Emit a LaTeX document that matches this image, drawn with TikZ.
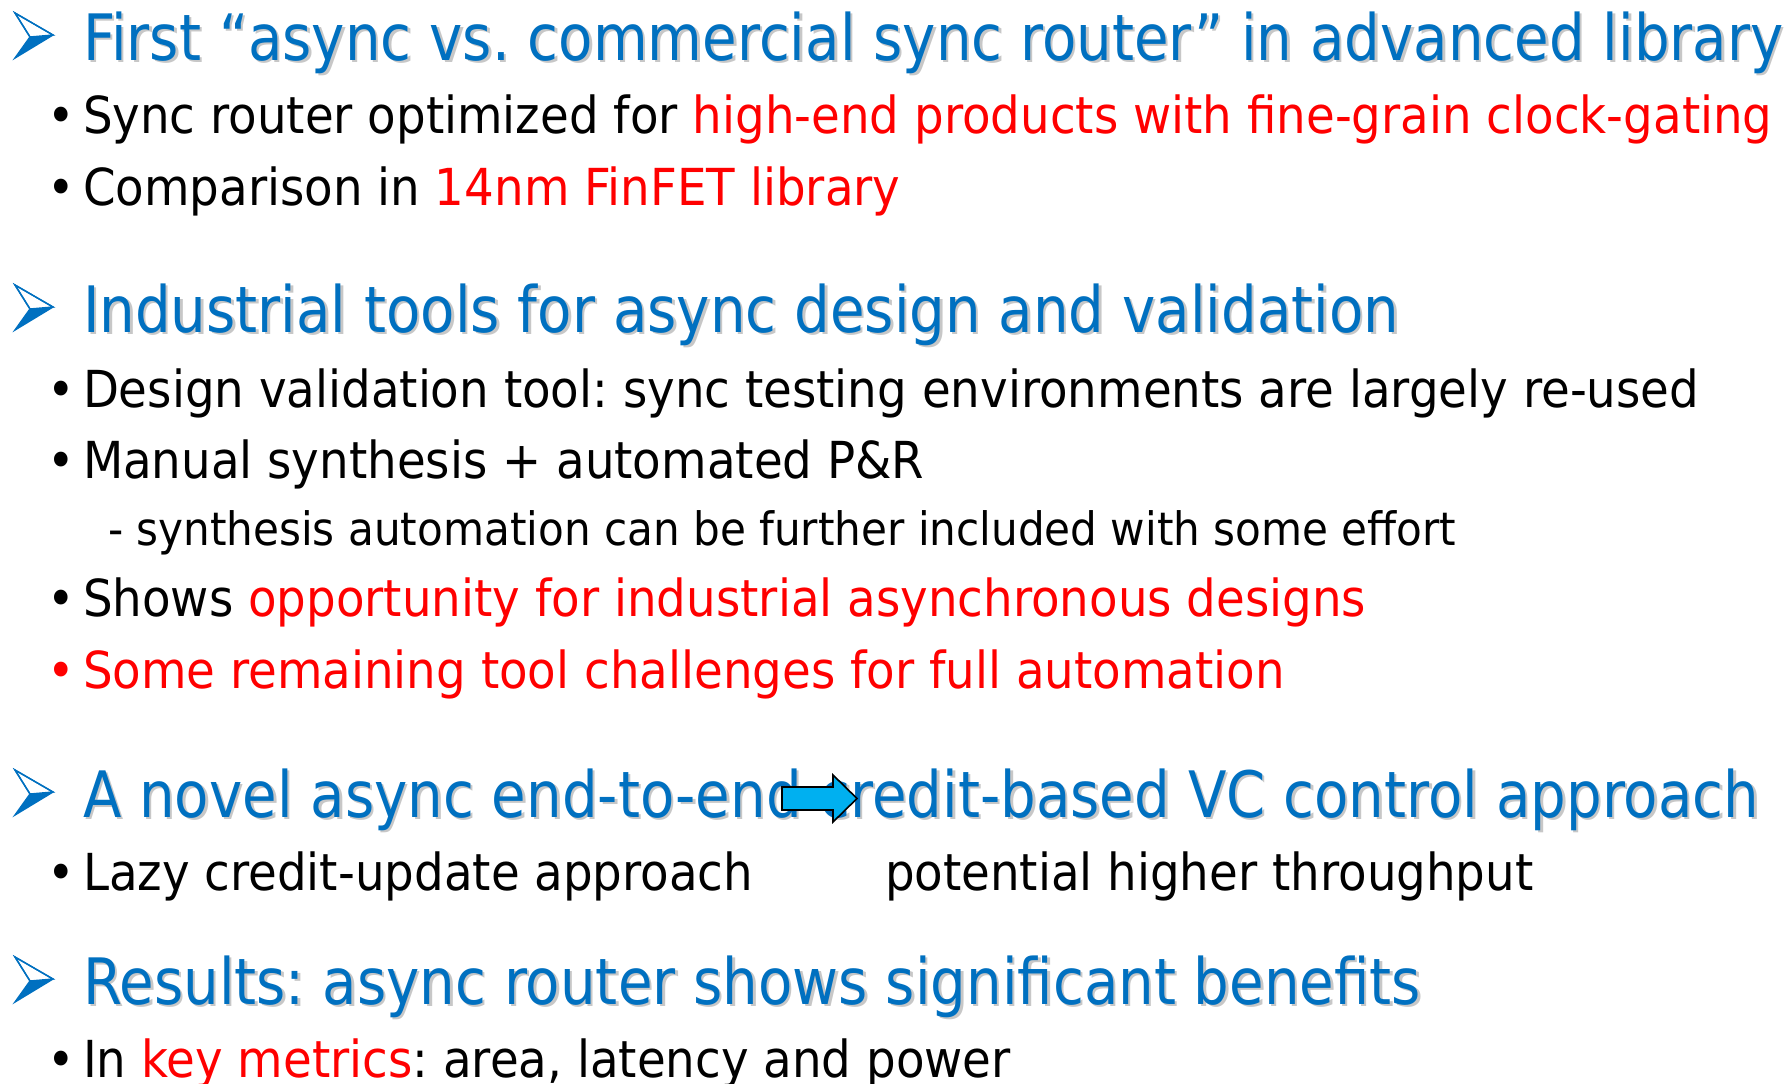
\documentclass[tikz,border=0pt]{standalone}
\usepackage{fontspec}
\setmainfont{DejaVu Sans}[FakeStretch=0.916]
\newfontfamily\headfont{DejaVu Sans}[FakeStretch=0.878]
\newfontfamily\bodyfont{DejaVu Sans}[FakeStretch=0.916]
\definecolor{headblue}{HTML}{0070C0}
\definecolor{hotred}{HTML}{FF0000}
\definecolor{arrowcyan}{HTML}{00B0F0}
\tikzset{
  headtext/.style={anchor=base west, inner sep=0pt, outer sep=0pt,
    font=\headfont\fontsize{64}{70}\selectfont\frenchspacing},
  bodytext/.style={anchor=base west, inner sep=0pt, outer sep=0pt,
    font=\bodyfont\fontsize{51}{56}\selectfont\frenchspacing},
  subtext/.style={anchor=base west, inner sep=0pt, outer sep=0pt,
    font=\bodyfont\fontsize{46}{50}\selectfont\frenchspacing},
  bulletmark/.style={anchor=base west, inner sep=0pt, outer sep=0pt,
    font=\bodyfont\fontsize{51}{56}\selectfont},
  headshadow/.style={headtext, text=black, opacity=0.22},
  headmain/.style={headtext, text=headblue},
  headarrow/.pic={
    \fill[headblue] (15,-23) -- (38,-25) -- (0,-2) -- cycle;
    \draw[headblue, line width=1.4pt, line join=miter, fill=white]
      (0,-47) -- (38,-25) -- (15,-23) -- cycle;
    \draw[headblue, line width=1.4pt, line join=miter]
      (0,-47) -- (38,-25) -- (0,-2) -- (15,-23) -- cycle;
  }
}
% heading with a soft drop shadow
\newcommand{\headline}[3]{%
  \node[headshadow] at (85.5,#2+2.5) {#3};
  \node[headmain] (#1) at (83,#2) {#3};
  \pic at (15,#2) {headarrow};
}
\begin{document}
\begin{tikzpicture}[x=1pt,y=-1pt]
\useasboundingbox[fill=white] (0,0) rectangle (1786,1084);

% --- first block
\headline{h1}{60}{First “async vs. commercial sync router” in advanced library}
\node[bulletmark] (b1m) at (47,133) {•};
\node[bodytext] (b1) at (83,133) {Sync router optimized for \textcolor{hotred}{high-end products with fine-grain clock-gating}};
\node[bulletmark] (b2m) at (47,205) {•};
\node[bodytext] (b2) at (83,205) {Comparison in \textcolor{hotred}{14nm FinFET library}};

% --- second block
\headline{h2}{332}{Industrial tools for async design and validation}
\node[bulletmark] (b3m) at (47,407) {•};
\node[bodytext] (b3) at (83,407) {Design validation tool: sync testing environments are largely re-used};
\node[bulletmark] (b4m) at (47,478) {•};
\node[bodytext] (b4) at (83,478) {Manual synthesis + automated P\&R};
\node[subtext] (s1) at (108,545) {- synthesis automation can be further included with some effort};
\node[bulletmark] (b5m) at (47,616) {•};
\node[bodytext] (b5) at (83,616) {Shows \textcolor{hotred}{opportunity for industrial asynchronous designs}};
\node[bulletmark, text=hotred] (b6m) at (47,688) {•};
\node[bodytext, text=hotred] (b6) at (83,688) {Some remaining tool challenges for full automation};

% --- third block
\headline{h3}{817}{A novel async end-to-end credit-based VC control approach}
\node[bulletmark] (b7m) at (47,890) {•};
\node[bodytext] (b7) at (83,890) {Lazy credit-update approach};
\node[bodytext] (b7r) at (885,890) {potential higher throughput};
\draw[fill=arrowcyan, line width=1.6pt, line join=miter]
  (782,787) -- (833,787) -- (833,775) -- (857,798.5) -- (833,822)
  -- (833,810) -- (782,810) -- cycle;

% --- fourth block
\headline{h4}{1004}{Results: async router shows significant benefits}
\node[bulletmark] (b8m) at (47,1077) {•};
\node[bodytext] (b8) at (83,1077) {In \textcolor{hotred}{key metrics}: area, latency and power};
\end{tikzpicture}
\end{document}
